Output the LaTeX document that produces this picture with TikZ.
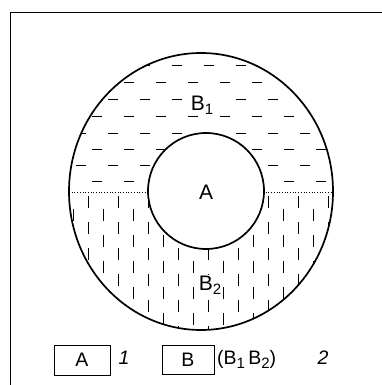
\documentclass[tikz,border=0pt]{standalone}
\usepackage{fontspec}
\setmainfont{Liberation Sans}
\newcommand{\mysub}[1]{\raisebox{-0.4ex}{\fontsize{15}{15}\selectfont #1}}
\begin{document}
\begin{tikzpicture}[x=1pt,y=-1pt,
  hatchline/.style={line width=0.8pt},
  ring/.style={line width=1.7pt},
  lab/.style={inner sep=1pt,font=\fontsize{21}{24}\selectfont},
  leg/.style={inner sep=0pt,font=\fontsize{19.5}{22}\selectfont},
  legbox/.style={draw,line width=0.8pt,inner sep=0pt,font=\fontsize{19.5}{22}\selectfont}]
\useasboundingbox (0,0) rectangle (382,385);
\draw[line width=1pt] (10,385) -- (10,13) -- (382,13);
% upper hatching (horizontal dashes)
\begin{scope}
  \clip (201,191.5) ellipse [x radius=132, y radius=138.5];
  \clip (60,40) rectangle (345,191);
  \foreach \y [count=\i] in {65,82,99,116,133,149,165,181} {
    \pgfmathsetmacro\ph{mod(\i,2)*16}
    \draw[hatchline, dash pattern=on 10pt off 22pt, dash phase=\ph pt] (60,\y) -- (345,\y);
  }
\end{scope}
% lower hatching (vertical dashes)
\begin{scope}
  \clip (201,191.5) ellipse [x radius=132, y radius=138.5];
  \clip (60,193) rectangle (345,340);
  \foreach \x [count=\i] in {73,88,103,118,133,148,163,178,193,208,223,238,253,268,283,298,313,328} {
    \pgfmathsetmacro\ph{mod(\i,2)*13}
    \draw[hatchline, dash pattern=on 12pt off 14pt, dash phase=\ph pt] (\x,196) -- (\x,340);
  }
\end{scope}
% dotted divider
\draw[line width=0.7pt, dotted] (69,192) -- (149,192);
\draw[line width=0.7pt, dotted] (263,192) -- (333,192);
% circles
\draw[ring, fill=white] (206,191) circle [radius=58];
\draw[ring] (201,191.5) ellipse [x radius=132, y radius=138.5];
% labels
\node[lab, fill=white] (b1) at (202,105) {B\mysub{1}};
\node[lab] (a) at (206,192) {A};
\node[lab, fill=white] (b2) at (210,285) {B\mysub{2}};
% legend
\node[legbox, minimum width=56, minimum height=30] (boxA) at (82,360) {A};
\node[leg, font=\fontsize{19.5}{22}\selectfont\itshape] (n1) at (124,358) {1};
\node[legbox, minimum width=52, minimum height=29] (boxB) at (188,359.5) {B};
\node[leg, anchor=west] (bb) at (217,359) {(B\mysub{1}\,B\mysub{2})};
\node[leg, font=\fontsize{19.5}{22}\selectfont\itshape] (n2) at (323,358) {2};
\end{tikzpicture}
\end{document}
